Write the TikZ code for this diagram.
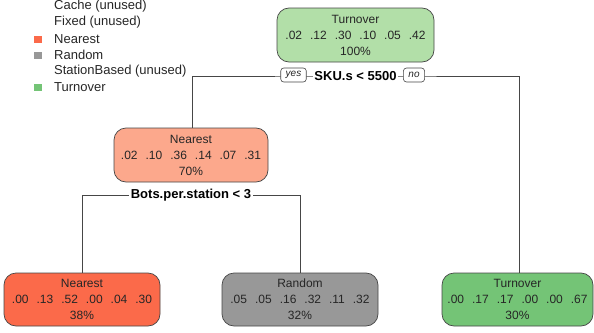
\documentclass[tikz,border=0pt]{standalone}
\usepackage{fontspec}
\setmainfont{Liberation Sans}
\definecolor{grnlight}{RGB}{178,223,168}
\definecolor{grndark}{RGB}{116,196,118}
\definecolor{redlight}{RGB}{252,168,140}
\definecolor{reddark}{RGB}{251,106,74}
\definecolor{graymid}{RGB}{152,152,152}
\definecolor{edgegray}{RGB}{70,70,70}
\newcommand{\gp}{\hspace{8pt}}
\tikzset{
  treenode/.style={draw=edgegray,line width=0.7pt,rounded corners=12pt,minimum width=155pt,
    minimum height=54pt,inner sep=2pt,align=center,text=black!85,font=\fontsize{12}{16}\selectfont},
  splitlab/.style={fill=white,inner sep=1.5pt,font=\bfseries\fontsize{13}{15}\selectfont},
  yesno/.style={draw=edgegray,fill=white,rounded corners=3pt,line width=0.6pt,inner xsep=5pt,
    inner ysep=1.5pt,minimum height=14pt,font=\itshape\fontsize{10}{12}\selectfont,text=black!85},
  legtext/.style={anchor=west,inner sep=0pt,font=\fontsize{13}{16}\selectfont,text=black!85},
  legbox/.style={minimum width=8pt,minimum height=7pt,inner sep=0pt}
}
\begin{document}
\begin{tikzpicture}[x=1pt,y=-1pt]
  \useasboundingbox (0,0) rectangle (594,332);

  % legend
  \node[legtext] (lcache) at (54,6) {Cache (unused)};
  \node[legtext] (lfixed) at (54,22) {Fixed (unused)};
  \node[legtext] (lnear) at (54,39) {Nearest};
  \node[legtext] (lrand) at (54,55) {Random};
  \node[legtext] (lstat) at (54,71) {StationBased (unused)};
  \node[legtext] (lturn) at (54,87) {Turnover};
  \node[legbox,fill=reddark] (bnear) at (37.5,39) {};
  \node[legbox,fill=graymid] (brand) at (37.5,55) {};
  \node[legbox,fill=grndark] (bturn) at (37.5,87) {};

  % tree nodes
  \node[treenode,fill=grnlight,minimum width=157pt] (root) at (355.5,35) {Turnover\\.02\gp.12\gp.30\gp.10\gp.05\gp.42\\100\%};
  \node[treenode,fill=redlight,minimum width=154pt] (near) at (191,155) {Nearest\\.02\gp.10\gp.36\gp.14\gp.07\gp.31\\70\%};
  \node[treenode,fill=reddark,minimum width=156pt,minimum height=53pt] (nearleaf) at (82,299.5) {Nearest\\.00\gp.13\gp.52\gp.00\gp.04\gp.30\\38\%};
  \node[treenode,fill=graymid,minimum width=156pt,minimum height=53pt] (randleaf) at (300,299.5) {Random\\.05\gp.05\gp.16\gp.32\gp.11\gp.32\\32\%};
  \node[treenode,fill=grndark,minimum width=151pt,minimum height=53pt] (turnleaf) at (517.5,299.5) {Turnover\\.00\gp.17\gp.17\gp.00\gp.00\gp.67\\30\%};

  % splits
  \coordinate (s1) at (355.5,76);
  \coordinate (s2) at (191,195);
  \draw[edgegray,line width=0.7pt] (near.north -| 192,0) |- (s1) -| (turnleaf.north -| 519,0);
  \draw[edgegray,line width=0.7pt] (nearleaf.north) |- (s2) -| (randleaf.north);
  \node[splitlab] (sku) at (s1) {SKU.s < 5500};
  \node[yesno] (yes) at (293.5,75) {yes};
  \node[yesno] (no) at (414,75) {no};
  \node[splitlab] (bots) at (s2) {Bots.per.station < 3};
\end{tikzpicture}
\end{document}
